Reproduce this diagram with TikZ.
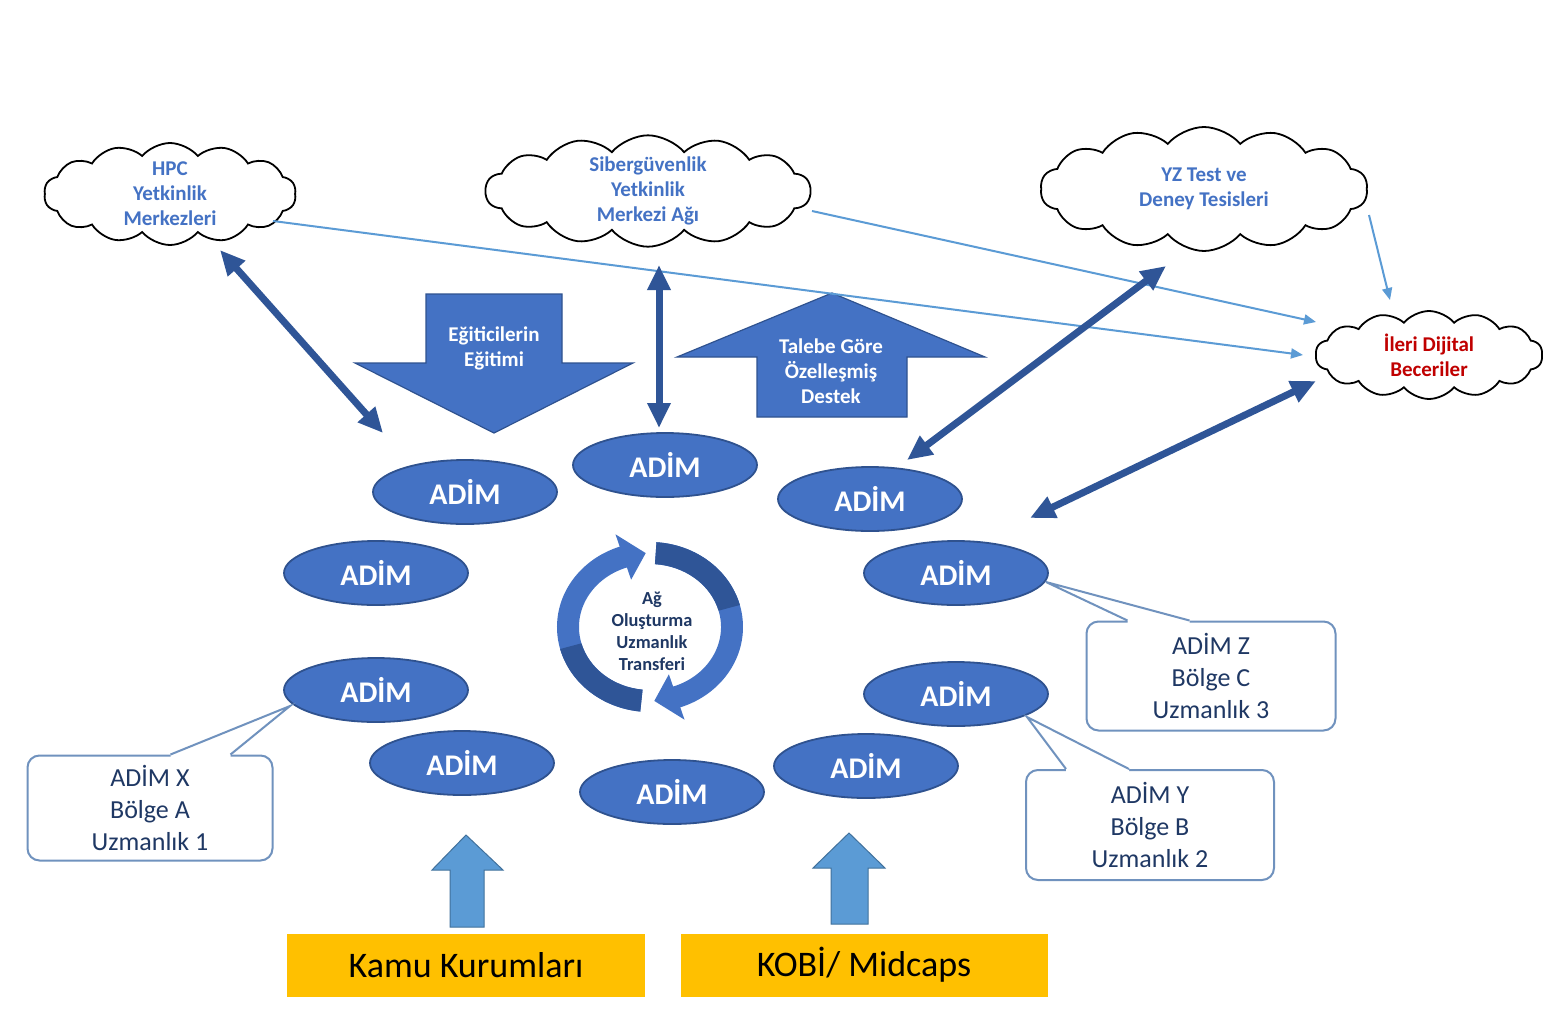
\documentclass[tikz,border=0pt]{standalone}
\usepackage{fontspec}
\setmainfont{Carlito}
\usepackage{tikz}
\usetikzlibrary{arrows.meta}
\usetikzlibrary{shapes.geometric}
\usetikzlibrary{shapes.symbols}
\newlength{\px}
\setlength{\px}{0.5pt}
\definecolor{adimblue}{RGB}{68,114,196}
\definecolor{adimedge}{RGB}{47,82,143}
\definecolor{koyublue}{RGB}{47,85,151}
\definecolor{ceblue}{RGB}{91,155,213}
\definecolor{ceedge}{RGB}{65,113,156}
\definecolor{kutuedge}{RGB}{112,146,190}
\definecolor{lacivert}{RGB}{31,56,100}
\definecolor{kirmizi}{RGB}{192,0,0}
\definecolor{sari}{RGB}{255,192,0}
\tikzset{adim/.style = {ellipse, fill=adimblue, draw=adimedge, line width=0.9pt,
                        minimum width=184\px, minimum height=64\px, inner sep=0,
                        text=white, font=\fontsize{15}{18}\selectfont\bfseries}}
\tikzset{bulut/.style = {cloud, draw=black, line width=0.9pt, cloud puffs=14,
                         cloud puff arc=100, cloud ignores aspect, inner sep=0,
                         align=center, font=\fontsize{10.5}{12.5}\selectfont\bfseries}}
\tikzset{kutu/.style = {draw=kutuedge, fill=white, rounded corners=6pt, line width=1pt,
                        align=center, text=lacivert, font=\fontsize{13}{16}\selectfont}}
\tikzset{kutuline/.style = {draw=kutuedge, line width=1pt}}
\tikzset{sarikutu/.style = {fill=sari, minimum width=358\px, minimum height=63\px,
                            font=\fontsize{18}{20}\selectfont}}
\tikzset{blok/.style = {fill=adimblue, draw=adimedge, line width=0.6pt}}
\tikzset{bloktext/.style = {align=center, text=white, font=\fontsize{10.5}{12.5}\selectfont\bfseries}}
\tikzset{kucukok/.style = {fill=ceblue, draw=ceedge, line width=0.5pt}}
\tikzset{cift/.style = {draw=koyublue, line width=3.5pt,
                        arrows={Triangle[length=12.5pt,width=11pt]-Triangle[length=12.5pt,width=11pt]}}}
\tikzset{ince/.style = {draw=ceblue, line width=1pt, arrows={-Triangle[length=6pt,width=5pt]}}}

\begin{document}
\begin{tikzpicture}[x=0.5pt, y=-0.5pt]
  \useasboundingbox (0,0) rectangle (1549,1013);
  \fill[white] (0,0) rectangle (1549,1013);

  % clouds
  \node (hpc) [bulut, text=adimblue, minimum width=252\px, minimum height=102\px] at (170,194) {HPC\\Yetkinlik\\Merkezleri};
  \node (siber) [bulut, text=adimblue, minimum width=325\px, minimum height=111\px] at (648,191) {Sibergüvenlik\\Yetkinlik\\Merkezi Ağı};
  \node (yz) [bulut, text=adimblue, minimum width=327\px, minimum height=124\px] at (1204,189) {YZ Test ve\\Deney Tesisleri};
  \node (ileri) [bulut, text=kirmizi, minimum width=227\px, minimum height=88\px] at (1429,355) {İleri Dijital\\Beceriler};

  % block arrows
  \filldraw[blok] (426,294) -- (562,294) -- (562,363) -- (633,363) -- (494,433) -- (355,363) -- (426,363) -- cycle;
  \node (egit) [bloktext] at (494,348) {Eğiticilerin\\Eğitimi};
  \filldraw[blok] (832,293) -- (985,357) -- (907,357) -- (907,417) -- (757,417) -- (757,357) -- (677,357) -- cycle;
  \node (talep) [bloktext] at (831,371) {Talebe Göre\\Özelleşmiş\\Destek};

  % steps
  \foreach \n/\x/\y in {1/465/492, 2/665/465, 3/870/499, 4/376/573, 5/956/573,
                        6/376/690, 7/956/694, 8/462/763, 9/866/766, 10/672/792}
    \node (s\n) [adim] at (\x,\y) {ADİM};

  % cycle in the middle
  \begin{scope}[shift={(650,627)}, yscale=-1]
    \fill[adimblue] (264:93 and 85) arc[start angle=264, end angle=109, x radius=93, y radius=85]
      -- (109:106 and 98) -- (93:82 and 74) -- (109:58 and 50)
      -- (109:71 and 63) arc[start angle=109, end angle=264, x radius=71, y radius=63] -- cycle;
    \fill[koyublue] (264:93 and 85) arc[start angle=264, end angle=195, x radius=93, y radius=85]
      -- (195:71 and 63) arc[start angle=195, end angle=264, x radius=71, y radius=63] -- cycle;
    \fill[adimblue] (86:93 and 85) arc[start angle=86, end angle=-71, x radius=93, y radius=85]
      -- (-71:106 and 98) -- (-87:82 and 74) -- (-71:58 and 50)
      -- (-71:71 and 63) arc[start angle=-71, end angle=86, x radius=71, y radius=63] -- cycle;
    \fill[koyublue] (86:93 and 85) arc[start angle=86, end angle=15, x radius=93, y radius=85]
      -- (15:71 and 63) arc[start angle=15, end angle=86, x radius=71, y radius=63] -- cycle;
  \end{scope}
  \node (ag) [align=center, text=lacivert, font=\fontsize{9.2}{11}\selectfont\bfseries] at (652,631) {Ağ\\Oluşturma\\Uzmanlık\\Transferi};

  % thin links to the advanced skills cloud
  \draw[ince] ([shift={(103,27)}]hpc.center) -- ([shift={(-126,0)}]ileri.center);
  \draw[ince] ([shift={(164,20)}]siber.center) -- ([shift={(-113,-33)}]ileri.center);
  \draw[ince] ([shift={(165,26)}]yz.center) -- ([shift={(-39,-55)}]ileri.center);

  % two-way arrows
  \draw[cift] ([shift={(50,56)}]hpc.center) -- ([shift={(-82,-59)}]s1.center);
  \draw[cift] ([shift={(11,74)}]siber.center) -- ([shift={(-6,-37)}]s2.center);
  \draw[cift] ([shift={(37,-39)}]s3.center) -- ([shift={(-38,77)}]yz.center);
  \draw[cift] ([shift={(74,-55)}]s5.center) -- ([shift={(-113,26)}]ileri.center);

  % callouts
  \node (bx) [kutu, minimum width=245\px, minimum height=105\px] at (150,808) {ADİM X\\Bölge A\\Uzmanlık 1};
  \coordinate (tx) at ([shift={(-86,16)}]s6.center);
  \fill[white] ([shift={(144,0)}]bx.north west) -- (tx) -- ([shift={(204,0)}]bx.north west)
    -- ([shift={(204,3)}]bx.north west) -- ([shift={(144,3)}]bx.north west) -- cycle;
  \draw[kutuline] ([shift={(144,0)}]bx.north west) -- (tx) -- ([shift={(204,0)}]bx.north west);

  \node (bz) [kutu, minimum width=249\px, minimum height=109\px] at (1211,676) {ADİM Z\\Bölge C\\Uzmanlık 3};
  \coordinate (tz) at ([shift={(90,9)}]s5.center);
  \fill[white] ([shift={(42,0)}]bz.north west) -- (tz) -- ([shift={(104,0)}]bz.north west)
    -- ([shift={(104,3)}]bz.north west) -- ([shift={(42,3)}]bz.north west) -- cycle;
  \draw[kutuline] ([shift={(42,0)}]bz.north west) -- (tz) -- ([shift={(104,0)}]bz.north west);

  \node (by) [kutu, minimum width=248\px, minimum height=110\px] at (1150,825) {ADİM Y\\Bölge B\\Uzmanlık 2};
  \coordinate (ty) at ([shift={(71,23)}]s7.center);
  \fill[white] ([shift={(41,0)}]by.north west) -- (ty) -- ([shift={(104,0)}]by.north west)
    -- ([shift={(104,3)}]by.north west) -- ([shift={(41,3)}]by.north west) -- cycle;
  \draw[kutuline] ([shift={(41,0)}]by.north west) -- (ty) -- ([shift={(104,0)}]by.north west);

  % bottom
  \node (kamu) [sarikutu] at (466,965) {Kamu Kurumları};
  \node (kobi) [sarikutu, minimum width=367\px] at (864,965) {KOBİ/ Midcaps};
  \filldraw[kucukok] (466,835) -- (503,870) -- (484,870) -- (484,927) -- (450,927) -- (450,870) -- (432,870) -- cycle;
  \filldraw[kucukok] (849,833) -- (885,868) -- (868,868) -- (868,924) -- (831,924) -- (831,868) -- (813,868) -- cycle;
\end{tikzpicture}
\end{document}
